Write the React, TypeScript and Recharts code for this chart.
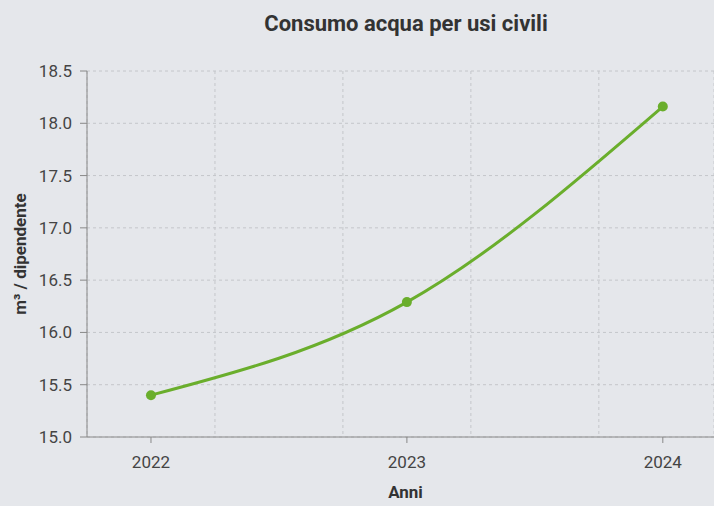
import { LineChart, Line, XAxis, YAxis, CartesianGrid } from 'recharts';

const years = [2022, 2023, 2024];
const consumo = [15.4, 16.29, 18.16];
const yTicks = [15, 15.5, 16, 16.5, 17, 17.5, 18, 18.5];
const xDomain = [2021.75, 2024.2];
const gridTicks = [2022.25, 2022.75, 2023.25, 2023.75];

const data = years.map((year, i) => ({ year, consumo: consumo[i] }));

const GREEN = '#6aae2c';
const font = 'Roboto, sans-serif';
const tickStyle = { fontFamily: font, fontSize: 17, fill: '#444' };
const labelStyle = { fontFamily: font, fontSize: 17, fontWeight: 700, fill: '#333' };

export default function App() {
  return (
    <div
      style={{
        position: 'absolute',
        left: 0,
        top: 0,
        width: 714,
        height: 506,
        background: '#e5e7eb',
        overflow: 'hidden',
      }}
    >
      <div
        style={{
          position: 'absolute',
          left: 406,
          top: 11,
          transform: 'translateX(-50%)',
          whiteSpace: 'nowrap',
          fontFamily: font,
          fontWeight: 700,
          fontSize: 22,
          lineHeight: '26px',
          color: '#333',
        }}
      >
        Consumo acqua per usi civili
      </div>
      <LineChart
        width={714}
        height={506}
        data={data}
        margin={{ top: 71, right: 0, left: 0, bottom: 0 }}
      >
        <CartesianGrid
          xAxisId="grid"
          strokeDasharray="3 3"
          stroke="#c4c6ca"
        />
        <XAxis
          xAxisId="grid"
          dataKey="year"
          type="number"
          domain={xDomain}
          ticks={gridTicks}
          allowDataOverflow
          hide
        />
        <XAxis
          dataKey="year"
          type="number"
          domain={xDomain}
          ticks={years}
          allowDataOverflow
          height={69}
          tickSize={6}
          tickMargin={13}
          tick={tickStyle}
          stroke="#888"
          tickFormatter={(v) => String(v)}
          label={{ value: 'Anni', position: 'insideBottom', offset: 8, dx: 5, style: labelStyle }}
        />
        <YAxis
          domain={[15, 18.5]}
          ticks={yTicks}
          width={87}
          tickSize={7}
          tickMargin={8}
          tick={tickStyle}
          stroke="#888"
          tickFormatter={(v) => v.toFixed(1)}
          label={{
            value: 'm³ / dipendente',
            angle: -90,
            position: 'insideLeft',
            offset: 20,
            style: { ...labelStyle, textAnchor: 'middle' },
          }}
        />
        <Line
          type="monotone"
          dataKey="consumo"
          stroke={GREEN}
          strokeWidth={3}
          dot={{ r: 5, fill: GREEN, stroke: GREEN, strokeWidth: 0 }}
          activeDot={false}
          isAnimationActive={false}
        />
      </LineChart>
    </div>
  );
}
